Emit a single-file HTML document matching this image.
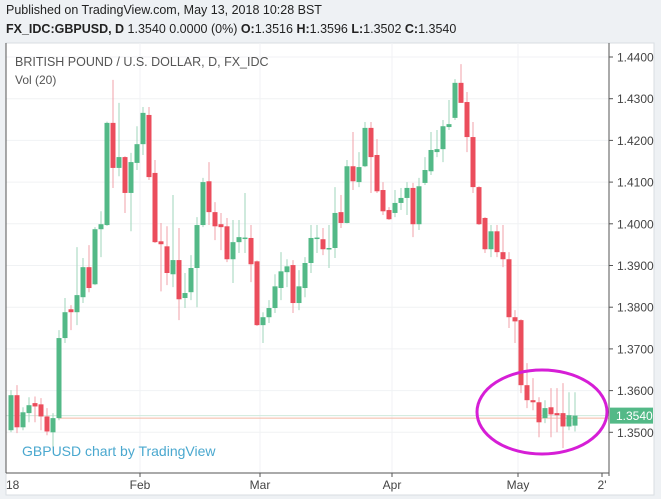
<!DOCTYPE html>
<html><head><meta charset="utf-8"><style>
html,body{margin:0;padding:0;background:#eef1f4;}
body{width:661px;height:499px;position:relative;overflow:hidden;font-family:"Liberation Sans",sans-serif;}
.hdr{position:absolute;left:6px;color:#222;font-size:12.5px;white-space:nowrap;}
</style></head><body>
<div class="hdr" style="top:3px;">Published on TradingView.com, May 13, 2018 10:28 BST</div>
<div class="hdr" style="top:22px;"><b>FX_IDC:GBPUSD, D</b> 1.3540 0.0000 (0%) <b>O:</b>1.3516 <b>H:</b>1.3596 <b>L:</b>1.3502 <b>C:</b>1.3540</div>
<svg id="chart" width="661" height="499" style="position:absolute;left:0;top:0" xmlns="http://www.w3.org/2000/svg" font-family="Liberation Sans, sans-serif"></svg>
<script>
const opens=[1.3505,1.3589,1.3512,1.3546,1.3570,1.3567,1.3538,1.3500,1.3534,1.3726,1.3795,1.3788,1.3824,1.3896,1.3855,1.3987,1.3997,1.4242,1.4134,1.4160,1.4074,1.4146,1.4191,1.4261,1.4122,1.3958,1.3946,1.3879,1.3913,1.3822,1.3836,1.3894,1.3997,1.4102,1.4028,1.3999,1.3994,1.3915,1.3956,1.3966,1.3966,1.3910,1.3757,1.3776,1.3798,1.3846,1.3884,1.3901,1.3810,1.3846,1.3906,1.3966,1.3963,1.3939,1.3942,1.4028,1.4002,1.4138,1.4100,1.4138,1.4230,1.4165,1.4081,1.4033,1.4026,1.4050,1.4062,1.4086,1.3999,1.4098,1.4126,1.4172,1.4179,1.4232,1.4254,1.4338,1.4292,1.4208,1.4088,1.4014,1.3939,1.3982,1.3932,1.3915,1.3776,1.3769,1.3613,1.3577,1.3572,1.3534,1.3560,1.3546,1.3546,1.3514,1.3516];
const highs=[1.3601,1.3613,1.3560,1.3584,1.3586,1.3582,1.3558,1.3546,1.3745,1.3822,1.3805,1.3944,1.3918,1.3949,1.3992,1.4030,1.4245,1.4345,1.4290,1.4162,1.4170,1.4234,1.4280,1.4280,1.4153,1.4002,1.3994,1.4069,1.3990,1.3882,1.3925,1.4016,1.4110,1.4148,1.4052,1.4026,1.4014,1.4009,1.4009,1.4074,1.3997,1.3912,1.3788,1.3817,1.3879,1.3932,1.3915,1.3913,1.3889,1.3920,1.3997,1.3997,1.3990,1.3997,1.4088,1.4069,1.4153,1.4220,1.4172,1.4244,1.4244,1.4203,1.4100,1.4040,1.4081,1.4086,1.4100,1.4098,1.4110,1.4160,1.4220,1.4225,1.4249,1.4297,1.4347,1.4383,1.4316,1.4244,1.4090,1.4016,1.3997,1.3997,1.3997,1.3932,1.3793,1.3771,1.3666,1.3630,1.3584,1.3577,1.3606,1.3606,1.3618,1.3596,1.3596];
const lows=[1.3500,1.3498,1.3505,1.3524,1.3524,1.3505,1.3493,1.3462,1.3529,1.3714,1.3745,1.3757,1.3810,1.3836,1.3853,1.3920,1.3995,1.4086,1.4114,1.4026,1.3982,1.4129,1.4165,1.4105,1.3954,1.3838,1.3853,1.3848,1.3769,1.3798,1.3817,1.3800,1.3992,1.3997,1.3961,1.3937,1.3908,1.3858,1.3930,1.3930,1.3860,1.3755,1.3714,1.3762,1.3786,1.3817,1.3848,1.3786,1.3793,1.3824,1.3882,1.3930,1.3925,1.3894,1.3918,1.3990,1.4001,1.4081,1.4088,1.4136,1.4074,1.4074,1.4021,1.4009,1.4016,1.4033,1.4021,1.3968,1.3985,1.4093,1.4117,1.4160,1.4148,1.4225,1.4249,1.4290,1.4172,1.4074,1.3997,1.3930,1.3920,1.3920,1.3896,1.3750,1.3714,1.3594,1.3558,1.3553,1.3488,1.3522,1.3488,1.3500,1.3462,1.3505,1.3502];
const closes=[1.3589,1.3512,1.3548,1.3565,1.3562,1.3538,1.3502,1.3534,1.3726,1.3788,1.3788,1.3829,1.3896,1.3846,1.3987,1.3999,1.4242,1.4134,1.4160,1.4074,1.4148,1.4191,1.4266,1.4112,1.3956,1.3951,1.3882,1.3913,1.3819,1.3834,1.3894,1.3997,1.4100,1.4028,1.3994,1.3992,1.3915,1.3956,1.3968,1.3967,1.3903,1.3757,1.3776,1.3798,1.3850,1.3886,1.3898,1.3810,1.3850,1.3906,1.3966,1.3967,1.3939,1.3942,1.4026,1.4002,1.4138,1.4102,1.4136,1.4230,1.4160,1.4078,1.4030,1.4011,1.4050,1.4062,1.4086,1.3999,1.4090,1.4129,1.4177,1.4179,1.4234,1.4239,1.4338,1.4290,1.4208,1.4088,1.3999,1.3939,1.3982,1.3932,1.3915,1.3776,1.3766,1.3613,1.3577,1.3572,1.3524,1.3558,1.3543,1.3541,1.3514,1.3541,1.3540];
const priceTicks=[1.44,1.43,1.42,1.41,1.40,1.39,1.38,1.37,1.36,1.35];
const monthLabels=["18","Feb","Mar","Apr","May","2'"];
const monthIndex=[-1,22,42,64,85,99];
const lastPrice=1.3540;

const svg=document.getElementById('chart');
const NS='http://www.w3.org/2000/svg';
const L=6,R=609,T=43,B=473;
function y(p){return 57+(1.44-p)*4170;}
function x(i){return 11+6*i;}
function mk(tag,attrs,parent){const e=document.createElementNS(NS,tag);for(const k in attrs)e.setAttribute(k,attrs[k]);(parent||svg).appendChild(e);return e;}

const panel=mk('rect',{x:L,y:T,width:648,height:452,fill:'#fff',stroke:'#d8dde2'});


const grid=mk('g',{});


priceTicks.forEach(p=>{mk('line',{x1:L,x2:R,y1:y(p),y2:y(p),stroke:'#f0f2f4'},grid);});
monthIndex.forEach((mi,k)=>{if(k>0&&k<5){mk('line',{x1:x(mi)-3,x2:x(mi)-3,y1:T,y2:B,stroke:'#f0f2f4'},grid);}});

const t1=mk('text',{x:15,y:66,'font-size':12.5,fill:'#555'});t1.textContent='BRITISH POUND / U.S. DOLLAR, D, FX_IDC';


const t2=mk('text',{x:15,y:84,'font-size':12,fill:'#555'});t2.textContent='Vol (20)';



const pl=mk('line',{x1:58,x2:R,y1:y(lastPrice)+2.5,y2:y(lastPrice)+2.5,stroke:'#f3b7a4','stroke-width':1});


const pl2=mk('line',{x1:L,x2:R,y1:y(lastPrice),y2:y(lastPrice),stroke:'#cfe9dc','stroke-width':1});



const cg=mk('g',{});


opens.forEach((o,i)=>{
  const c=closes[i],up=c>=o,col=up?'#53b987':'#eb4d5c',wc=up?'#9fd6bb':'#f2a0a8';
  const g=mk('g',{},cg);
  
  
  mk('line',{x1:x(i),x2:x(i),y1:y(highs[i]),y2:y(lows[i]),stroke:wc,'stroke-width':1},g);
  const top=y(Math.max(o,c)),h=Math.max(1.5,Math.abs(y(o)-y(c)));
  mk('rect',{x:x(i)-2.5,y:top,width:5,height:h,fill:col},g);
});

mk('line',{x1:R,x2:R,y1:T,y2:B+3,stroke:'#555'});
mk('line',{x1:L,x2:R,y1:B,y2:B,stroke:'#555'});
mk('line',{x1:L,x2:L,y1:T,y2:B,stroke:'#555'});
const ya=mk('g',{});


priceTicks.forEach(p=>{
  mk('line',{x1:R,x2:R+4,y1:y(p),y2:y(p),stroke:'#555'},ya);
  const t=mk('text',{x:617,y:y(p)+4.5,'font-size':12,fill:'#444'},ya);t.textContent=p.toFixed(4);
});
const xa=mk('g',{});


monthLabels.forEach((m,k)=>{
  const xx=x(monthIndex[k])-3;
  if(k>0) mk('line',{x1:xx,x2:xx,y1:B,y2:B+4,stroke:'#555'},xa);
  const t=mk('text',{x:k==0?6:xx,y:489,'font-size':12,fill:'#444','text-anchor':k==0?'start':'middle'},xa);t.textContent=m;
});

const pb=mk('g',{});


mk('rect',{x:R+1,y:y(lastPrice)-8,width:43,height:16,fill:'#53b987'},pb);
const pt=mk('text',{x:616,y:y(lastPrice)+4.5,'font-size':12,fill:'#fff'},pb);pt.textContent=lastPrice.toFixed(4);

const wm=mk('text',{x:22,y:456,'font-size':14,fill:'#4aa8cf'});wm.textContent='GBPUSD chart by TradingView';



const el=mk('ellipse',{cx:542,cy:412,rx:65,ry:42,fill:'none',stroke:'#d61ed6','stroke-width':3});


</script>
</body></html>
